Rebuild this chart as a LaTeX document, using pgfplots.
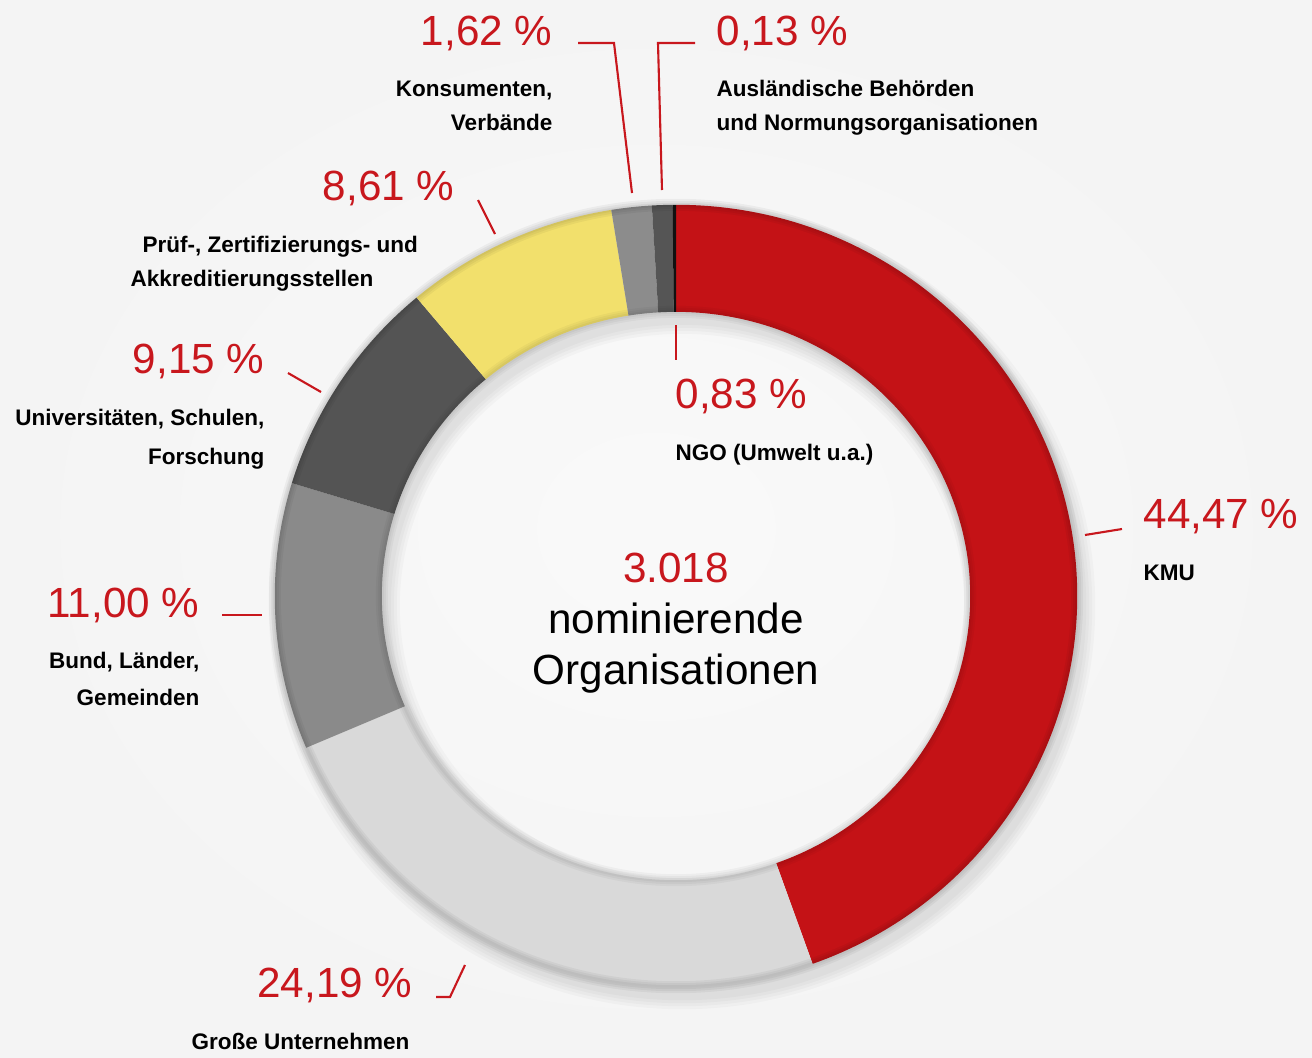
\documentclass[border=0pt]{standalone}
\usepackage{pgfplots}
\pgfplotsset{compat=1.18}
\usepackage{pgfplotstable}
\usepackage{fontspec}
\setmainfont{Liberation Sans}

\definecolor{txtred}{HTML}{C8171D}
\definecolor{bg}{HTML}{F4F4F4}
% ring colours, in table order
\definecolor{c0}{HTML}{C41216}
\definecolor{c1}{HTML}{D9D9D9}
\definecolor{c2}{HTML}{8A8A8A}
\definecolor{c3}{HTML}{545454}
\definecolor{c4}{HTML}{F2E06C}
\definecolor{c5}{HTML}{8C8C8C}
\definecolor{c6}{HTML}{555555}
\definecolor{c7}{HTML}{111111}

% shares of nominating organisations, clockwise from the top
\pgfplotstableread{
group value
KMU 44.47
GrosseUnternehmen 24.19
Bund 11.00
Universitaeten 9.15
Pruefstellen 8.61
Konsumenten 1.62
NGO 0.83
Auslaendische 0.13
}\shares

\newcommand{\pct}{\fontsize{12pt}{14pt}\selectfont\color{txtred}}
\newcommand{\lab}{\fontsize{6.4pt}{8pt}\selectfont\bfseries}

\begin{document}
\begin{tikzpicture}
% cumulative angles from the table
\pgfplotstablegetrowsof{\shares}
\pgfmathtruncatemacro\nlast{\pgfplotsretval-1}
\xdef\acc{90}
\foreach \i in {0,...,\nlast}{
  \pgfplotstablegetelem{\i}{value}\of\shares
  \pgfmathsetmacro\wspan{3.6*\pgfplotsretval}
  \pgfmathsetmacro\endang{\acc-\wspan}
  \expandafter\xdef\csname sa\i\endcsname{\acc}
  \expandafter\xdef\csname ea\i\endcsname{\endang}
  \xdef\acc{\endang}
}
\begin{axis}[
    x=0.01cm, y=0.01cm,
    xmin=0, xmax=1312, ymin=0, ymax=1057,
    hide axis,
    clip=false,
]
\shade[inner color=white!50!bg, outer color=bg] (axis cs:0,0) rectangle (axis cs:1312,1057);

% soft shadow
\pgfplotsinvokeforeach{1,2,3,4}{
  \fill[black, opacity=0.025, even odd rule, shift={(axis cs:682,451)}]
    (0,0) ellipse[x radius=4.01cm+#1*0.03cm, y radius=3.91cm+#1*0.03cm]
    (0,0) ellipse[x radius=2.94cm-#1*0.03cm, y radius=2.84cm-#1*0.03cm];
}

% ring segments
\pgfplotsinvokeforeach{0,...,7}{
  \fill[c#1, shift={(axis cs:676,461)}]
    (\csname sa#1\endcsname:4.01cm and 3.91cm)
    arc[start angle=\csname sa#1\endcsname, end angle=\csname ea#1\endcsname, x radius=4.01cm, y radius=3.91cm]
    -- (\csname ea#1\endcsname:2.94cm and 2.84cm)
    arc[start angle=\csname ea#1\endcsname, end angle=\csname sa#1\endcsname, x radius=2.94cm, y radius=2.84cm]
    -- cycle;
}
% soft edge darkening for a bit of depth
\pgfplotsinvokeforeach{0.4,0.8,1.2}{
  \draw[black, opacity=0.045, line width=#1mm, shift={(axis cs:676,461)}]
    (0,0) ellipse[x radius=4.01cm, y radius=3.91cm];
  \draw[black, opacity=0.035, line width=#1mm, shift={(axis cs:676,461)}]
    (0,0) ellipse[x radius=2.94cm, y radius=2.84cm];
}

% leader lines
\begin{scope}[txtred, line width=0.6pt]
\draw (axis cs:578,1014) -- (axis cs:614,1014) -- (axis cs:632,864);
\draw (axis cs:695,1014) -- (axis cs:658,1014) -- (axis cs:662,867);
\draw (axis cs:478,857) -- (axis cs:495,823);
\draw (axis cs:288,684) -- (axis cs:321,665);
\draw (axis cs:222,442) -- (axis cs:262,442);
\draw (axis cs:436,60) -- (axis cs:450,60) -- (axis cs:465,92);
\draw (axis cs:1085,522) -- (axis cs:1122,528);
\draw (axis cs:676,732) -- (axis cs:676,697);
\end{scope}

% percentages
\node[anchor=base east, inner sep=0] at (axis cs:553,1012) {\pct 1,62 \%};
\node[anchor=base west, inner sep=0] at (axis cs:716,1012) {\pct 0,13 \%};
\node[anchor=base east, inner sep=0] at (axis cs:455,857) {\pct 8,61 \%};
\node[anchor=base east, inner sep=0] at (axis cs:265,684) {\pct 9,15 \%};
\node[anchor=base east, inner sep=0] at (axis cs:200,440) {\pct 11,00 \%};
\node[anchor=base east, inner sep=0] at (axis cs:413,60) {\pct 24,19 \%};
\node[anchor=base west, inner sep=0] at (axis cs:1143,529) {\pct 44,47 \%};
\node[anchor=base west, inner sep=0] at (axis cs:675,649) {\pct 0,83 \%};

% category names
\node[anchor=base east, inner sep=0] at (axis cs:553,961) {\lab Konsumenten,};
\node[anchor=base east, inner sep=0] at (axis cs:553,927) {\lab Verbände};
\node[anchor=base west, inner sep=0] at (axis cs:716,961) {\lab Ausländische Behörden};
\node[anchor=base west, inner sep=0] at (axis cs:716,927) {\lab und Normungsorganisationen};
\node[anchor=base west, inner sep=0] at (axis cs:142,805) {\lab Prüf-, Zertifizierungs- und};
\node[anchor=base west, inner sep=0] at (axis cs:130,771) {\lab Akkreditierungsstellen};
\node[anchor=base east, inner sep=0] at (axis cs:265,632) {\lab Universitäten, Schulen,};
\node[anchor=base east, inner sep=0] at (axis cs:265,593) {\lab Forschung};
\node[anchor=base east, inner sep=0] at (axis cs:200,389) {\lab Bund, Länder,};
\node[anchor=base east, inner sep=0] at (axis cs:200,352) {\lab Gemeinden};
\node[anchor=base west, inner sep=0] at (axis cs:191,8) {\lab Große Unternehmen};
\node[anchor=base west, inner sep=0] at (axis cs:1143,477) {\lab KMU};
\node[anchor=base west, inner sep=0] at (axis cs:675,597) {\lab NGO (Umwelt u.a.)};

% centre
\node[anchor=base, inner sep=0] at (axis cs:676,475) {\pct 3.018};
\node[anchor=base, inner sep=0] at (axis cs:676,424) {\fontsize{12pt}{14pt}\selectfont nominierende};
\node[anchor=base, inner sep=0] at (axis cs:676,373) {\fontsize{12pt}{14pt}\selectfont Organisationen};
\end{axis}
\end{tikzpicture}
\end{document}
